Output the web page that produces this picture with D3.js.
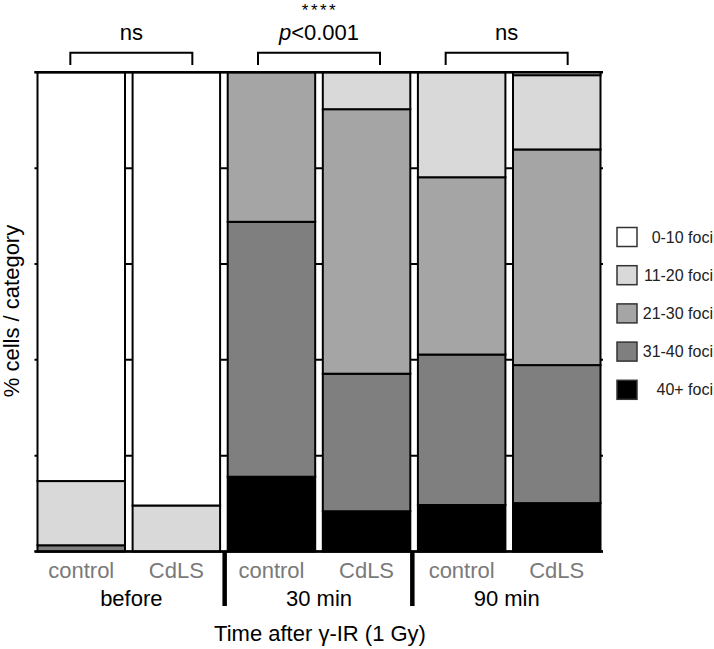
<!doctype html>
<html>
<head>
<meta charset="utf-8">
<script src="https://cdn.jsdelivr.net/npm/d3@7"></script>
<style>
  body { margin: 0; background: #fff; }
  svg { display: block; font-family: "Liberation Sans", Arial, sans-serif; }
</style>
</head>
<body>
<svg id="chart" width="714" height="649"></svg>
<script>
// categories along x
var groups = ["before", "30 min", "90 min"];
var conditions = ["control", "CdLS"];
var bars = ["before-control", "before-CdLS", "30-control", "30-CdLS", "90-control", "90-CdLS"];

// % cells per foci category, one value per bar (same order as bars)
var foci0to10 = [85.3, 90.4, 0, 0, 0, 0.6];
var foci11to20 = [13.4, 9.6, 0, 7.7, 21.9, 15.5];
var foci21to30 = [0, 0, 31.2, 55.2, 37.0, 45.0];
var foci31to40 = [1.3, 0, 53.2, 28.7, 31.4, 28.8];
var foci40plus = [0, 0, 15.6, 8.4, 9.7, 10.1];

var legendLabels = ["0-10 foci", "11-20 foci", "21-30 foci", "31-40 foci", "40+ foci"];
var fills = ["#ffffff", "#d9d9d9", "#a5a5a5", "#7f7f7f", "#000000"];
var yTicks = [0, 20, 40, 60, 80, 100];

var sigStars = ["", "****", ""];
var sigLabels = ["ns", "p<0.001", "ns"];

var rows = bars.map(function(b, i) {
  return {bar: b, f0: foci0to10[i], f1: foci11to20[i], f2: foci21to30[i], f3: foci31to40[i], f4: foci40plus[i]};
});
// bottom of the stack is 40+
var keys = ["f4", "f3", "f2", "f1", "f0"];
var keyFill = {f0: fills[0], f1: fills[1], f2: fills[2], f3: fills[3], f4: fills[4]};
var series = d3.stack().keys(keys)(rows);

var svg = d3.select("#chart");

var x = d3.scaleBand().domain(bars).range([37.5, 600.5]).paddingInner(0.08).paddingOuter(0);
var xGroup = d3.scaleBand().domain(groups).range([37.5, 600.5]).padding(0);
var y = d3.scaleLinear().domain([0, 100]).range([551.5, 72.3]);

// tick lines across the plot (visible in the gaps between bars)
svg.append("g").selectAll("line")
  .data(yTicks)
  .enter().append("line")
    .attr("x1", 34.5).attr("x2", 603)
    .attr("y1", function(d) { return y(d); })
    .attr("y2", function(d) { return y(d); })
    .style("stroke", "#000")
    .style("stroke-width", 2);

// stacked bars
svg.append("g").selectAll("g")
  .data(series)
  .enter().append("g")
    .style("fill", function(s) { return keyFill[s.key]; })
  .selectAll("rect")
  .data(function(s) { return s.filter(function(d) { return d[1] - d[0] > 0; }); })
  .enter().append("rect")
    .attr("x", function(d) { return x(d.data.bar); })
    .attr("width", x.bandwidth())
    .attr("y", function(d) { return y(d[1]); })
    .attr("height", function(d) { return y(d[0]) - y(d[1]); })
    .style("stroke", "#000")
    .style("stroke-width", 2);

// top and bottom frame lines
svg.append("line")
  .attr("x1", 34.5).attr("x2", 603).attr("y1", y(100)).attr("y2", y(100))
  .style("stroke", "#000").style("stroke-width", 2.5);
svg.append("line")
  .attr("x1", 34.5).attr("x2", 603).attr("y1", y(0)).attr("y2", y(0))
  .style("stroke", "#000").style("stroke-width", 2.5);

// group separators under the axis
svg.append("g").selectAll("line")
  .data(groups.slice(1))
  .enter().append("line")
    .attr("x1", function(g) { return xGroup(g) - 0.5; })
    .attr("x2", function(g) { return xGroup(g) - 0.5; })
    .attr("y1", y(0)).attr("y2", 606)
    .style("stroke", "#000")
    .style("stroke-width", 4.5);

// condition labels
svg.append("g").selectAll("text")
  .data(bars)
  .enter().append("text")
    .attr("x", function(b) { return x(b) + x.bandwidth() / 2; })
    .attr("y", 578)
    .attr("text-anchor", "middle")
    .style("font-size", "22px")
    .style("fill", "#7a7a7a")
    .text(function(b, i) { return conditions[i % 2]; });

// group labels
svg.append("g").selectAll("text")
  .data(groups)
  .enter().append("text")
    .attr("x", function(g) { return xGroup(g) + xGroup.bandwidth() / 2; })
    .attr("y", 606)
    .attr("text-anchor", "middle")
    .style("font-size", "22px")
    .style("fill", "#000")
    .text(function(g) { return g; });

svg.append("text")
  .attr("x", 320).attr("y", 641)
  .attr("text-anchor", "middle")
  .style("font-size", "22px")
  .text("Time after \u03b3-IR (1 Gy)");

svg.append("text")
  .attr("transform", "translate(19,311) rotate(-90)")
  .attr("text-anchor", "middle")
  .style("font-size", "22px")
  .text("% cells / category");

// significance brackets
var brackets = svg.append("g").selectAll("g")
  .data(groups)
  .enter().append("g");

brackets.append("path")
  .attr("d", function(g) {
    var cx = xGroup(g) + xGroup.bandwidth() / 2;
    return "M" + (cx - 61) + ",65V52.7H" + (cx + 61) + "V65";
  })
  .style("fill", "none")
  .style("stroke", "#000")
  .style("stroke-width", 2);

brackets.append("text")
  .attr("x", function(g) { return xGroup(g) + xGroup.bandwidth() / 2; })
  .attr("y", 39.5)
  .attr("text-anchor", "middle")
  .style("font-size", "22px")
  .each(function(g, i) {
    var t = d3.select(this);
    var lab = sigLabels[i];
    if (lab.charAt(0) === "p") {
      t.append("tspan").style("font-style", "italic").text("p");
      t.append("tspan").text(lab.slice(1));
    } else {
      t.text(lab);
    }
  });

brackets.filter(function(g, i) { return sigStars[i] !== ""; })
  .append("text")
    .attr("x", function(g) { return xGroup(g) + xGroup.bandwidth() / 2 + 1; })
    .attr("y", 16)
    .attr("text-anchor", "middle")
    .style("font-size", "17px")
    .style("letter-spacing", "2.5px")
    .text(function(g) { return sigStars[groups.indexOf(g)]; });

// legend
var legend = svg.append("g").selectAll("g")
  .data(legendLabels)
  .enter().append("g")
    .attr("transform", function(d, i) { return "translate(0," + (237 + i * 38.2) + ")"; });

legend.append("rect")
  .attr("x", 617).attr("y", -9.5)
  .attr("width", 20).attr("height", 19)
  .style("fill", function(d, i) { return fills[i]; })
  .style("stroke", "#333")
  .style("stroke-width", 1.5);

legend.append("text")
  .attr("x", 713).attr("y", 5.5)
  .attr("text-anchor", "end")
  .style("font-size", "16px")
  .style("fill", "#222")
  .text(function(d) { return d; });
</script>
</body>
</html>
